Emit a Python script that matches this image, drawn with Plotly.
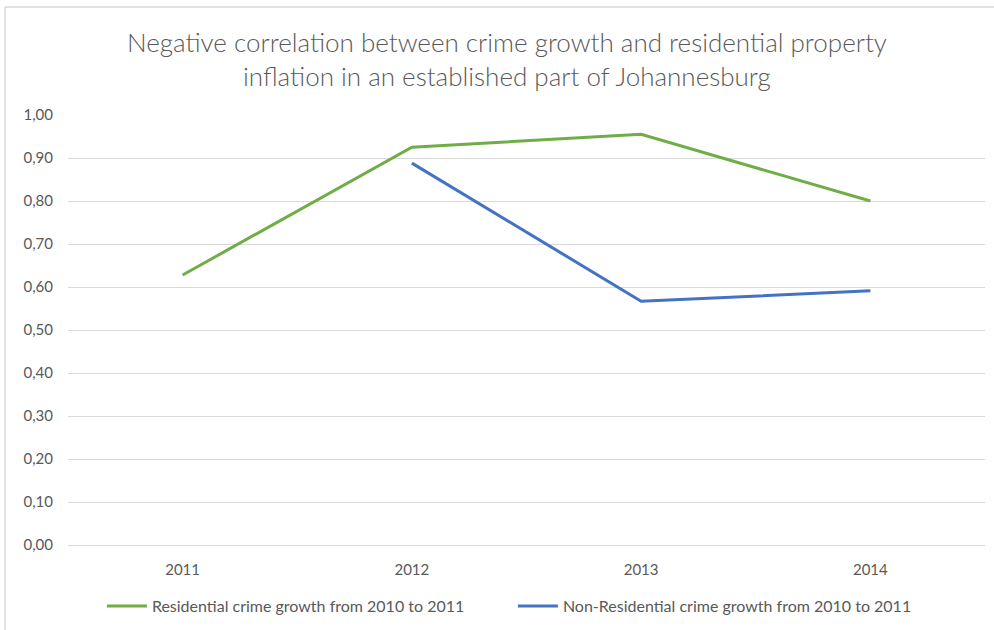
import plotly.graph_objects as go

years = ["2011", "2012", "2013", "2014"]
residential = [0.628, 0.925, 0.955, 0.80]
non_residential = [None, 0.888, 0.567, 0.591]
y_ticks = [0.0, 0.1, 0.2, 0.3, 0.4, 0.5, 0.6, 0.7, 0.8, 0.9, 1.0]
y_tick_labels = [f"{v:.2f}".replace(".", ",") for v in y_ticks]

font_family = "Lato, Open Sans, sans-serif"
gray = "#595959"

fig = go.Figure()
fig.add_trace(go.Scatter(x=years, y=residential, mode="lines",
                         name="Residential crime growth from 2010 to 2011",
                         line=dict(color="#70AD47", width=3)))
fig.add_trace(go.Scatter(x=years, y=non_residential, mode="lines",
                         name="Non-Residential crime growth from 2010 to 2011",
                         line=dict(color="#4472C4", width=3)))

fig.update_layout(
    width=994, height=630,
    paper_bgcolor="white", plot_bgcolor="white",
    margin=dict(l=68, r=9, t=115, b=85),
    title=dict(text="Negative correlation between crime growth and residential property<br>inflation in an established part of Johannesburg",
               x=0.51, xanchor="center", y=0.917, yanchor="middle",
               font=dict(family=font_family, size=26, color=gray, weight=300)),
    font=dict(family=font_family, color=gray),
    xaxis=dict(type="category", range=[-0.5, 3.5], showgrid=False, showline=False,
               automargin=False,
               ticks="", ticklabelstandoff=14, tickfont=dict(size=15, color=gray)),
    yaxis=dict(range=[0, 1.0], tickvals=y_ticks, ticktext=y_tick_labels,
               automargin=False,
               showgrid=True, gridcolor="#D9D9D9", gridwidth=1, zeroline=True,
               zerolinecolor="#D9D9D9", zerolinewidth=1, showline=False,
               ticks="", ticklabelstandoff=14, tickfont=dict(size=15, color=gray)),
    legend=dict(orientation="h", xref="container", x=0.516, xanchor="center",
                yref="container", y=0.038, yanchor="middle",
                font=dict(size=16, color=gray), itemwidth=40,
                entrywidth=356, entrywidthmode="pixels"),
    showlegend=True,
    shapes=[
        dict(type="line", xref="paper", yref="paper", x0=-0.0687, x1=1.02, y0=1.251, y1=1.251,
             line=dict(color="#D9D9D9", width=1.5)),
        dict(type="line", xref="paper", yref="paper", x0=-0.0687, x1=-0.0687, y0=-0.21, y1=1.251,
             line=dict(color="#D9D9D9", width=1.5)),
    ],
)
fig.write_html("out.html")
